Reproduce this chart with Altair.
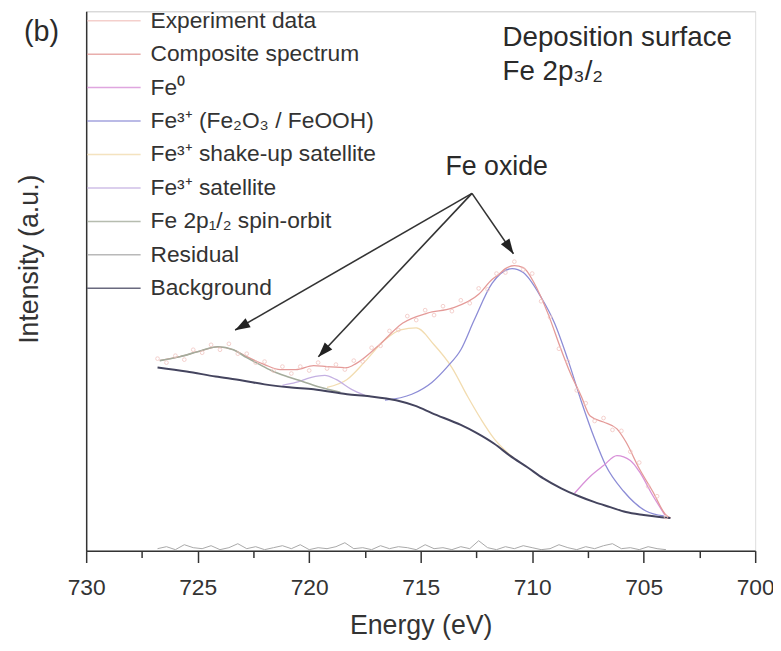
import altair as alt
import pandas as pd

FONT = "Liberation Sans, Arial, Helvetica, sans-serif"

series_names = [
    "Experiment data",
    "Composite spectrum",
    "Fe⁰",
    "Fe³⁺ (Fe₂O₃ / FeOOH)",
    "Fe³⁺ shake-up satellite",
    "Fe³⁺ satellite",
    "Fe 2p₁/₂ spin-orbit",
    "Residual",
    "Background",
]
series_colors = ["#f2c4c0", "#e49a98", "#d890d8", "#8c8cd6", "#f2dcb0",
                 "#c4b0e2", "#a4ac9c", "#a8a8a8", "#44445e"]

# ---- data (binding energy in eV, intensity in a.u.) ----
energy_bg = [726.8, 725.5, 724.2, 723.0, 722.0, 720.9, 719.8, 718.3, 717.3, 716.1,
             715.2, 714.5, 713.2, 712.5, 711.7, 711.0, 710.2, 709.5, 708.7, 707.9,
             707.2, 706.5, 705.8, 705.0, 704.3, 703.8]
background = [185, 181, 176, 172, 168, 165, 163, 158, 156, 152,
              146, 139, 127, 119, 108, 96, 84, 73, 63, 55,
              49, 44, 39, 36, 34, 33]

energy_comp = [726.7, 725.8, 725.0, 724.1, 723.4, 722.8, 722.0, 721.3, 720.6, 719.8,
               719.2, 718.3, 717.9, 716.9, 715.8, 714.7, 713.6, 712.4, 711.8, 711.5,
               711.2, 710.8, 710.4, 709.9, 709.3, 708.7, 708.3, 707.8, 707.4, 706.8,
               706.2, 705.8, 705.2, 704.6, 704.0, 703.8]
composite = [192, 196, 201, 206, 203, 196, 188, 183, 183, 187,
             186, 185, 189, 207, 230, 240, 245, 259, 274, 279,
             285, 288, 286, 270, 240, 203, 180, 156, 136, 130,
             123, 110, 83, 60, 36, 33]

energy_fe3 = [716.6, 715.4, 714.5, 713.8, 713.2, 712.6, 711.8, 710.9, 710.4, 709.6,
              709.0, 708.4, 707.8, 707.2, 706.7, 705.9, 704.9, 704.1]
fe3 = [152, 158, 170, 186, 203, 233, 270, 285, 281, 256,
       230, 193, 151, 113, 86, 60, 40, 35]

energy_fe0 = [708.1, 707.4, 706.8, 706.2, 705.6, 705.2, 704.6, 704.05]
fe0 = [58, 75, 86, 96, 91, 80, 56, 36]

energy_shake = [719.2, 718.3, 717.5, 716.6, 715.9, 715.2, 714.4, 713.6, 712.9, 712.3,
                711.7, 711.2, 710.8]
shake = [165, 173, 191, 213, 223, 225, 208, 185, 156, 133, 113, 101, 93]

energy_sat = [721.2, 720.6, 719.9, 719.3, 718.8, 718.1, 717.5]
sat = [167, 170, 175, 177, 173, 163, 157]

energy_so = [726.7, 725.8, 725.0, 724.1, 723.4, 722.8, 722.3, 721.7, 721.0, 720.3,
             719.5, 718.6]
spin_orbit = [192, 196, 201, 206, 203, 195, 189, 182, 176, 171, 165, 160]

energy_exp = [726.8, 726.4, 726.0, 725.6, 725.2, 724.8, 724.4, 724.0, 723.6, 723.2,
              722.8, 722.4, 722.0, 721.6, 721.2, 720.8, 720.4, 720.0, 719.6, 719.2,
              718.8, 718.4, 718.0, 717.6, 717.2, 716.8, 716.4, 716.0, 715.6, 715.2,
              714.8, 714.4, 714.0, 713.6, 713.2, 712.8, 712.4, 712.0, 711.6, 711.2,
              710.8, 710.4, 710.0, 709.6, 709.2, 708.8, 708.4, 708.0, 707.6, 707.2,
              706.8, 706.4, 706.0, 705.6, 705.2, 704.8, 704.4, 704.0]
experiment = [194, 190, 197, 193, 203, 200, 208, 203, 209, 199,
              199, 190, 191, 182, 186, 179, 186, 182, 190, 184,
              188, 183, 192, 191, 205, 207, 222, 223, 237, 233,
              243, 238, 247, 242, 253, 250, 265, 264, 280, 281,
              292, 284, 280, 252, 236, 204, 191, 162, 149, 131,
              134, 122, 121, 100, 89, 65, 55, 34]
residual = [2, 4, 1, 6, 3, 2, 5, 1, 3, 7,
            2, 4, 1, 3, 5, 2, 6, 1, 3, 2,
            4, 8, 2, 3, 1, 5, 2, 4, 3, 1,
            6, 2, 3, 1, 4, 2, 10, 3, 1, 4,
            2, 5, 3, 1, 2, 6, 3, 1, 4, 2,
            5, 7, 2, 3, 1, 4, 2, 1]

major_ticks = [700, 705, 710, 715, 720, 725, 730]
minor_ticks = [702.5, 707.5, 712.5, 717.5, 722.5, 727.5]

# annotation: arrows from the "Fe oxide" label to the oxide features
arrow_from_E = [712.7, 712.7, 712.7]
arrow_from_I = [361, 361, 361]
arrow_to_E = [723.32, 719.59, 710.84]
arrow_to_I = [223, 196, 300]
head_E = [722.99, 719.33, 711.05]
head_I = [227, 202, 307]
head_angle = [240, 223, 146]

# ---- tables ----
def table(name, es, vals):
    return pd.DataFrame({"E": es, "I": vals, "series": name})

lines_df = pd.concat([
    table(series_names[4], energy_shake, shake),
    table(series_names[5], energy_sat, sat),
    table(series_names[3], energy_fe3, fe3),
    table(series_names[2], energy_fe0, fe0),
    table(series_names[1], energy_comp, composite),
], ignore_index=True)
so_df = table(series_names[6], energy_so, spin_orbit)
bg_df = table(series_names[8], energy_bg, background)
exp_df = table(series_names[0], energy_exp, experiment)
res_df = table(series_names[7], energy_exp, residual)
arrow_df = pd.DataFrame({"E": arrow_from_E, "I": arrow_from_I,
                         "E2": arrow_to_E, "I2": arrow_to_I})
head_df = pd.DataFrame({"E": head_E, "I": head_I, "angle": head_angle})
note_df = pd.DataFrame({"E": [711.59], "I": [388], "label": ["Fe oxide"]})
panel_df = pd.DataFrame({"E": [732.0], "I": [524], "label": ["(b)"]})
title_df = pd.DataFrame({"E": [711.33, 711.33], "I": [518, 484],
                         "label": ["Deposition surface", "Fe 2p₃/₂"]})

x_scale = alt.Scale(domain=[700, 730], reverse=True, nice=False, zero=False)
y_scale = alt.Scale(domain=[0, 545], nice=False, zero=False)
color_scale = alt.Scale(domain=series_names, range=series_colors)

y_axis = alt.Axis(title="Intensity (a.u.)", ticks=False, labels=False, grid=False,
                  domainColor="#333", domainWidth=1.5, titleFontSize=27,
                  titleFontWeight="normal", titleColor="#333", titleFont=FONT,
                  titleX=-57, titleY=250, titleBaseline="middle", titleAlign="center",
                  titleAngle=270)
y_enc = alt.Y("I:Q", scale=y_scale, axis=y_axis)

major_axis = alt.Axis(orient="bottom", values=major_ticks, format="d", grid=False,
                      tickSize=12, tickWidth=1.5, tickColor="#333",
                      domainColor="#333", domainWidth=1.5,
                      labelFontSize=23, labelColor="#333", labelFont=FONT,
                      labelPadding=14, labelFlush=False, labelOverlap=False,
                      title="Energy (eV)", titleFontSize=27, titleFontWeight="normal",
                      titleColor="#333", titleFont=FONT, titleY=76,
                      titleBaseline="middle")
minor_axis = alt.Axis(orient="bottom", values=minor_ticks, grid=False, labels=False,
                      domain=False, tickSize=7, tickWidth=1.5, tickColor="#333",
                      title=None)
top_axis = alt.Axis(orient="top", grid=False, labels=False, ticks=False,
                    domainColor="#d4d4d4", domainWidth=1, title=None)

legend = alt.Legend(title=None, orient="none", legendX=0, legendY=-7,
                    symbolType="stroke", symbolSize=2916, symbolStrokeWidth=1.5,
                    labelFontSize=23, labelFont=FONT, labelColor="#333",
                    labelLimit=600, labelOffset=9, symbolOffset=0,
                    clipHeight=33, rowPadding=0.8, padding=0)
color_enc = alt.Color("series:N", scale=color_scale, legend=legend)

lines = alt.Chart(lines_df).mark_line(strokeWidth=1.3, interpolate="monotone").encode(
    x=alt.X("E:Q", scale=x_scale, axis=major_axis),
    y=y_enc,
    color=color_enc,
    detail="series:N",
)
so = alt.Chart(so_df).mark_line(strokeWidth=1.6, interpolate="monotone").encode(
    x=alt.X("E:Q", scale=x_scale, axis=None),
    y=y_enc,
    color=color_enc,
)
bg = alt.Chart(bg_df).mark_line(strokeWidth=2, interpolate="monotone").encode(
    x=alt.X("E:Q", scale=x_scale, axis=None),
    y=y_enc,
    color=color_enc,
)
res = alt.Chart(res_df).mark_line(strokeWidth=1, interpolate="linear").encode(
    x=alt.X("E:Q", scale=x_scale, axis=minor_axis),
    y=y_enc,
    color=color_enc,
)
exp = alt.Chart(exp_df).mark_point(size=14, opacity=0.8, strokeWidth=1).encode(
    x=alt.X("E:Q", scale=x_scale, axis=top_axis),
    y=y_enc,
    color=color_enc,
)
arrows = alt.Chart(arrow_df).mark_rule(color="#333", strokeWidth=1.6).encode(
    x=alt.X("E:Q", scale=x_scale, axis=None),
    x2="E2:Q",
    y=y_enc,
    y2="I2:Q",
)
heads = alt.Chart(head_df).mark_point(
    shape="M0,-1L0.6,0.75L-0.6,0.75Z", filled=True, size=300, color="#222", opacity=1
).encode(
    x=alt.X("E:Q", scale=x_scale, axis=None),
    y=y_enc,
    angle=alt.Angle("angle:Q", scale=None),
)
note = alt.Chart(note_df).mark_text(
    fontSize=27, font=FONT, color="#2a2a2a", align="center", baseline="middle"
).encode(x=alt.X("E:Q", scale=x_scale, axis=None), y=y_enc, text="label:N")
panel = alt.Chart(panel_df).mark_text(
    fontSize=29, font=FONT, color="#2a2a2a", align="center", baseline="middle"
).encode(x=alt.X("E:Q", scale=x_scale, axis=None), y=y_enc, text="label:N")
titles = alt.Chart(title_df).mark_text(
    fontSize=28, font=FONT, color="#2a2a2a", align="left", baseline="middle"
).encode(x=alt.X("E:Q", scale=x_scale, axis=None), y=y_enc, text="label:N")

chart = alt.layer(lines, so, bg, res, exp, arrows, heads, note, panel, titles).resolve_axis(
    x="independent"
).resolve_scale(x="shared", y="shared", color="shared").properties(
    width=676, height=545,
    autosize=alt.AutoSizeParams(type="none"),
    padding={"left": 79, "top": 0, "right": 18, "bottom": 90},
).configure_view(stroke=None).configure(font=FONT)

chart.save("out.html", embed_options={"renderer": "svg", "actions": False})
